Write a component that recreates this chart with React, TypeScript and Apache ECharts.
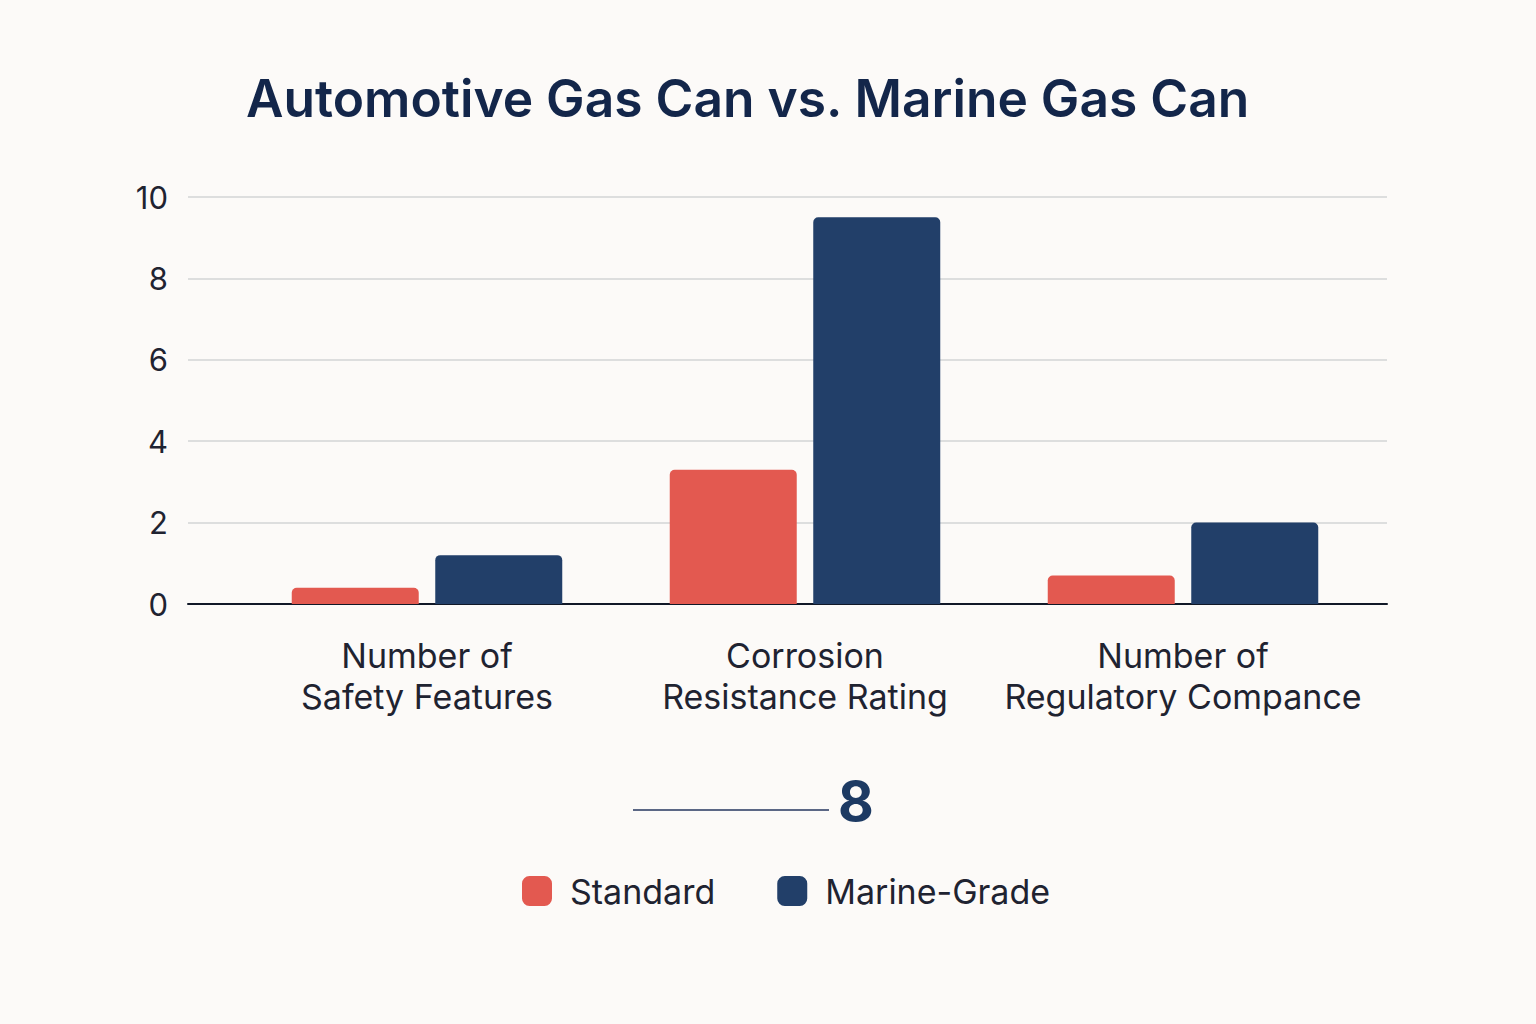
import React, { useEffect, useRef } from "react";
import * as echarts from "echarts";

const categories = [
  "Number of\nSafety Features",
  "Corrosion\nResistance Rating",
  "Number of\nRegulatory Compance",
];
const seriesNames = ["Standard", "Marine-Grade"];
const standardValues = [0.4, 3.3, 0.7];
const marineValues = [1.2, 9.5, 2.0];
const yTicks = { min: 0, max: 10, interval: 2 };
const titleText = "Automotive Gas Can vs. Marine Gas Can";
const highlightNumber = "8";

const RED = "#e35950";
const NAVY = "#223f69";
const TEXT = "#1f2331";
const FONT = "Inter, 'Noto Sans', sans-serif";

export default function App() {
  const ref = useRef<HTMLDivElement>(null);

  useEffect(() => {
    document.body.style.margin = "0";
    if (!ref.current) return;
    const chart = echarts.init(ref.current, undefined, { renderer: "svg" });
    const gridTop = 197;
    const gridBottom = 1024 - 604;
    chart.setOption({
      animation: false,
      backgroundColor: "#fcfaf8",
      textStyle: { fontFamily: FONT },
      title: {
        text: titleText,
        left: 246,
        top: 72,
        padding: 0,
        textStyle: {
          fontFamily: FONT,
          fontSize: 51.5,
          fontWeight: 600,
          color: "#13264a",
        },
      },
      legend: {
        data: seriesNames,
        left: 522,
        top: 874,
        padding: 0,
        icon: "roundRect",
        itemWidth: 30,
        itemHeight: 30,
        itemGap: 62,
        textStyle: { fontFamily: FONT, fontSize: 34, color: TEXT, padding: [0, 0, 0, 13] },
      },
      grid: [
        { left: 188, right: 1536 - 1387, top: gridTop, bottom: gridBottom },
        { left: 238, right: 164, top: gridTop, bottom: gridBottom },
      ],
      xAxis: [
        {
          gridIndex: 0,
          type: "value",
          min: 0,
          max: 1,
          axisLine: { show: true, lineStyle: { color: "#111827", width: 2 } },
          axisTick: { show: false },
          axisLabel: { show: false },
          splitLine: { show: false },
        },
        {
          gridIndex: 1,
          type: "category",
          data: categories,
          axisLine: { show: false },
          axisTick: { show: false },
          axisLabel: {
            fontFamily: FONT,
            fontSize: 34,
            lineHeight: 41,
            color: TEXT,
            margin: 31,
            interval: 0,
          },
        },
      ],
      yAxis: [
        {
          gridIndex: 0,
          type: "value",
          min: yTicks.min,
          max: yTicks.max,
          interval: yTicks.interval,
          axisLine: { show: false },
          axisTick: { show: false },
          axisLabel: { fontFamily: FONT, fontSize: 31, color: TEXT, margin: 20 },
          splitLine: { lineStyle: { color: "#d3d5d6", width: 1.5 } },
        },
        {
          gridIndex: 1,
          type: "value",
          min: yTicks.min,
          max: yTicks.max,
          interval: yTicks.interval,
          show: false,
        },
      ],
      series: [
        {
          name: seriesNames[0],
          type: "bar",
          xAxisIndex: 1,
          yAxisIndex: 1,
          data: standardValues,
          barWidth: 127,
          barGap: "13%",
          itemStyle: { color: RED, borderRadius: [5, 5, 0, 0] },
        },
        {
          name: seriesNames[1],
          type: "bar",
          xAxisIndex: 1,
          yAxisIndex: 1,
          data: marineValues,
          barWidth: 127,
          barGap: "13%",
          itemStyle: { color: NAVY, borderRadius: [5, 5, 0, 0] },
        },
      ],
      graphic: [
        {
          type: "line",
          shape: { x1: 633, y1: 810, x2: 829, y2: 810 },
          style: { stroke: "#5b6785", lineWidth: 2 },
        },
        {
          type: "text",
          x: 856,
          y: 801,
          style: {
            text: highlightNumber,
            fontFamily: FONT,
            fontSize: 55,
            fontWeight: 700,
            fill: "#1d3a63",
            textAlign: "center",
            textVerticalAlign: "middle",
          },
        },
      ],
    });
    return () => chart.dispose();
  }, []);

  return <div ref={ref} style={{ width: 1536, height: 1024 }} />;
}
